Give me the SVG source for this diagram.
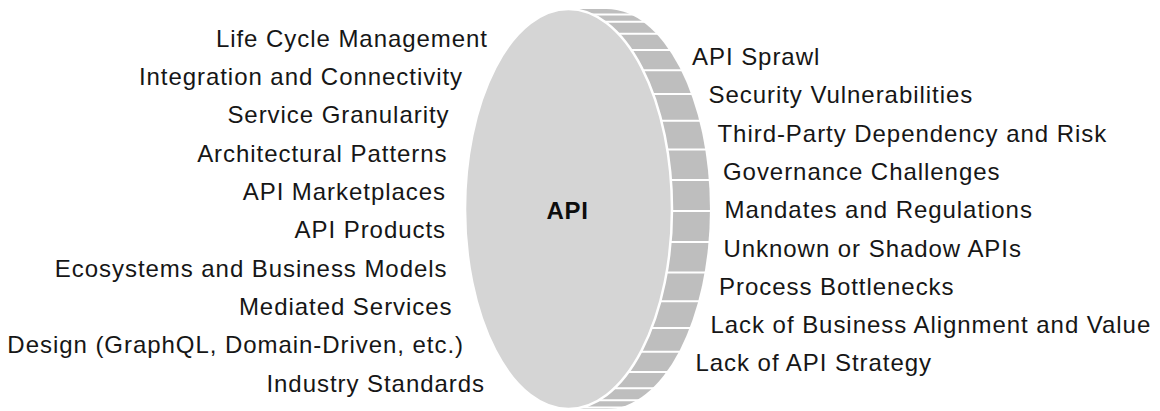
<svg xmlns="http://www.w3.org/2000/svg" width="1160" height="411" viewBox="0 0 1160 411">
  <style>
    .lbl { font-family: "Liberation Sans", Arial, sans-serif; font-size: 24px; fill: #161616; letter-spacing: 0.95px; }
    .l { text-anchor: end; }
    .r { text-anchor: start; }
    .title { font-family: "Liberation Sans", Arial, sans-serif; font-size: 24px; font-weight: bold; fill: #0d0d0d; text-anchor: middle; letter-spacing: 0.6px; }
    .stripe { stroke: #ffffff; stroke-width: 2; }
  </style>
  <rect width="1160" height="411" fill="#ffffff"/>
  <g id="coin">
    <path d="M568.5,9 L606.5,9 A103.5 200 0 0 1 606.5,409 L568.5,409 Z" fill="#bebebe"/>
    <g id="rim-stripes" class="stripe">
      <line x1="570" y1="14.5" x2="720" y2="14.5"/>
      <line x1="570" y1="21.7" x2="720" y2="21.7"/>
      <line x1="570" y1="33.7" x2="720" y2="33.7"/>
      <line x1="570" y1="50" x2="720" y2="50"/>
      <line x1="570" y1="70.3" x2="720" y2="70.3"/>
      <line x1="570" y1="94" x2="720" y2="94"/>
      <line x1="570" y1="120.7" x2="720" y2="120.7"/>
      <line x1="570" y1="149.5" x2="720" y2="149.5"/>
      <line x1="570" y1="179.9" x2="720" y2="179.9"/>
      <line x1="570" y1="211" x2="720" y2="211"/>
      <line x1="570" y1="242.1" x2="720" y2="242.1"/>
      <line x1="570" y1="272.5" x2="720" y2="272.5"/>
      <line x1="570" y1="301.3" x2="720" y2="301.3"/>
      <line x1="570" y1="328" x2="720" y2="328"/>
      <line x1="570" y1="351.7" x2="720" y2="351.7"/>
      <line x1="570" y1="372" x2="720" y2="372"/>
      <line x1="570" y1="388.3" x2="720" y2="388.3"/>
      <line x1="570" y1="400.3" x2="720" y2="400.3"/>
      <line x1="570" y1="407.5" x2="720" y2="407.5"/>
    </g>
    <ellipse cx="568.5" cy="209" rx="103.5" ry="200" fill="#d5d5d5" stroke="#ffffff" stroke-width="2.5"/>
    <text class="title" x="567.5" y="219">API</text>
  </g>
  <g id="left-labels" class="lbl l">
    <text x="488" y="46.5">Life Cycle Management</text>
    <text x="463" y="84.8">Integration and Connectivity</text>
    <text x="449.5" y="123.2">Service Granularity</text>
    <text x="447.5" y="161.5">Architectural Patterns</text>
    <text x="446" y="199.8">API Marketplaces</text>
    <text x="446" y="238.2">API Products</text>
    <text x="447.5" y="276.5">Ecosystems and Business Models</text>
    <text x="452.5" y="314.8">Mediated Services</text>
    <text x="464" y="353.2">Design (GraphQL, Domain-Driven, etc.)</text>
    <text x="485" y="391.5">Industry Standards</text>
  </g>
  <g id="right-labels" class="lbl r">
    <text x="692" y="65">API Sprawl</text>
    <text x="708.5" y="103.3">Security Vulnerabilities</text>
    <text x="717.5" y="141.6">Third-Party Dependency and Risk</text>
    <text x="723" y="179.9">Governance Challenges</text>
    <text x="724.5" y="218.2">Mandates and Regulations</text>
    <text x="723.5" y="256.5">Unknown or Shadow APIs</text>
    <text x="719" y="294.8">Process Bottlenecks</text>
    <text x="710.5" y="333.1">Lack of Business Alignment and Value</text>
    <text x="695.5" y="371.4">Lack of API Strategy</text>
  </g>
</svg>
